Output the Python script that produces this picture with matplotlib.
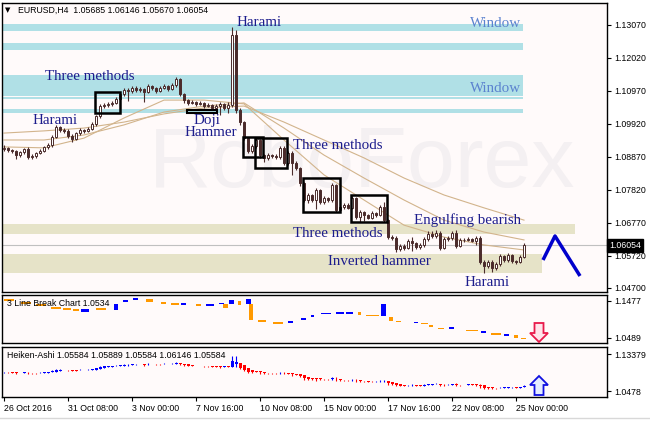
import numpy as np
import matplotlib
matplotlib.use('Agg')
import matplotlib.pyplot as plt
from matplotlib.patches import Rectangle, Polygon
from matplotlib.lines import Line2D

# EURUSD H4 candles, 26 Oct - 25 Nov 2016
first_open = 1.0912
closes = [1.0916, 1.0909, 1.0906, 1.0893, 1.0903, 1.0912, 1.0887, 1.0890, 1.0900, 1.0906,
          1.0919, 1.0925, 1.0951, 1.0982, 1.0973, 1.0970, 1.0954, 1.0944, 1.0963, 1.0973,
          1.0970, 1.0976, 1.0992, 1.1017, 1.1049, 1.1052, 1.1056, 1.1059, 1.1072, 1.1087,
          1.1100, 1.1097, 1.1107, 1.1100, 1.1103, 1.1094, 1.1113, 1.1107, 1.1097, 1.1107,
          1.1113, 1.1103, 1.1116, 1.1135, 1.1087, 1.1068, 1.1059, 1.1062, 1.1056, 1.1059,
          1.1049, 1.1052, 1.1043, 1.1049, 1.1056, 1.1043, 1.1052, 1.1275, 1.1037, 1.0998,
          1.0947, 1.0906, 1.0922, 1.0941, 1.0893, 1.0884, 1.0893, 1.0890, 1.0887, 1.0916,
          1.0868, 1.0900, 1.0868, 1.0852, 1.0804, 1.0750, 1.0766, 1.0750, 1.0782, 1.0744,
          1.0756, 1.0750, 1.0798, 1.0718, 1.0728, 1.0734, 1.0725, 1.0756, 1.0696, 1.0712,
          1.0702, 1.0693, 1.0709, 1.0702, 1.0728, 1.0686, 1.0632, 1.0629, 1.0594, 1.0604,
          1.0597, 1.0620, 1.0613, 1.0600, 1.0607, 1.0626, 1.0642, 1.0635, 1.0645, 1.0597,
          1.0626, 1.0629, 1.0645, 1.0604, 1.0623, 1.0623, 1.0626, 1.0620, 1.0629, 1.0553,
          1.0540, 1.0553, 1.0534, 1.0546, 1.0572, 1.0559, 1.0575, 1.0556, 1.0553, 1.05685,
          1.06054]
highs = [1.0925, 1.0920, 1.0913, 1.0910, 1.0907, 1.0916, 1.0918, 1.0896, 1.0904, 1.0911,
         1.0923, 1.0931, 1.0956, 1.0990, 1.0986, 1.0978, 1.0975, 1.0960, 1.0968, 1.0979,
         1.0977, 1.0983, 1.0998, 1.1022, 1.1055, 1.1058, 1.1061, 1.1065, 1.1077, 1.1093,
         1.1106, 1.1108, 1.1113, 1.1112, 1.1110, 1.1108, 1.1118, 1.1117, 1.1110, 1.1112,
         1.1119, 1.1116, 1.1122, 1.1142, 1.1138, 1.1092, 1.1072, 1.1067, 1.1066, 1.1064,
         1.1063, 1.1058, 1.1056, 1.1054, 1.1061, 1.1060, 1.1062, 1.1300, 1.1290, 1.1042,
         1.1003, 1.0952, 1.0928, 1.0948, 1.0945, 1.0898, 1.0899, 1.0897, 1.0895, 1.0922,
         1.0921, 1.0906, 1.0905, 1.0873, 1.0856, 1.0808, 1.0772, 1.0770, 1.0788, 1.0786,
         1.0762, 1.0760, 1.0803, 1.0802, 1.0733, 1.0739, 1.0740, 1.0762, 1.0760, 1.0717,
         1.0716, 1.0706, 1.0714, 1.0712, 1.0733, 1.0745, 1.0690, 1.0640, 1.0634, 1.0610,
         1.0609, 1.0626, 1.0632, 1.0617, 1.0612, 1.0632, 1.0650, 1.0650, 1.0655, 1.0650,
         1.0632, 1.0634, 1.0651, 1.0655, 1.0629, 1.0628, 1.0631, 1.0630, 1.0636, 1.0634,
         1.0560, 1.0560, 1.0558, 1.0552, 1.0578, 1.0576, 1.0582, 1.0578, 1.0560, 1.0574,
         1.06146]
lows = [1.0905, 1.0903, 1.0899, 1.0880, 1.0888, 1.0898, 1.0882, 1.0879, 1.0885, 1.0895,
        1.0902, 1.0912, 1.0920, 1.0946, 1.0966, 1.0962, 1.0948, 1.0936, 1.0940, 1.0958,
        1.0964, 1.0966, 1.0972, 1.0986, 1.1012, 1.1043, 1.1046, 1.1050, 1.1054, 1.1068,
        1.1082, 1.1065, 1.1090, 1.1094, 1.1095, 1.1062, 1.1090, 1.1100, 1.1090, 1.1093,
        1.1103, 1.1097, 1.1099, 1.1111, 1.1080, 1.1060, 1.1052, 1.1054, 1.1050, 1.1052,
        1.1043, 1.1045, 1.1036, 1.1038, 1.1020, 1.1035, 1.1026, 1.1045, 1.1028, 1.0990,
        1.0940, 1.0900, 1.0900, 1.0915, 1.0885, 1.0872, 1.0878, 1.0884, 1.0880, 1.0882,
        1.0862, 1.0862, 1.0830, 1.0845, 1.0796, 1.0744, 1.0740, 1.0744, 1.0722, 1.0736,
        1.0738, 1.0744, 1.0745, 1.0712, 1.0712, 1.0722, 1.0720, 1.0720, 1.0690, 1.0680,
        1.0682, 1.0688, 1.0688, 1.0696, 1.0698, 1.0680, 1.0625, 1.0622, 1.0586, 1.0588,
        1.0590, 1.0593, 1.0588, 1.0594, 1.0595, 1.0602, 1.0620, 1.0630, 1.0630, 1.0590,
        1.0593, 1.0621, 1.0624, 1.0598, 1.0600, 1.0617, 1.0619, 1.0615, 1.0606, 1.0546,
        1.0518, 1.0534, 1.0520, 1.0528, 1.0540, 1.0552, 1.0554, 1.0550, 1.0547, 1.0550,
        1.05670]

# moving averages, sampled every 10 bars
ma_idx = [0, 10, 20, 30, 40, 50, 60, 70, 80, 90, 100, 110, 120, 130]
ma_slow = [1.0963, 1.0970, 1.0979, 1.0998, 1.1024, 1.1043, 1.1049, 1.0998, 1.0941, 1.0884,
           1.0820, 1.0766, 1.0725, 1.0686]
ma_mid = [1.0941, 1.0941, 1.0957, 1.0989, 1.1030, 1.1049, 1.1059, 1.0979, 1.0893, 1.0820,
          1.0750, 1.0686, 1.0648, 1.0623]
ma_fast = [1.0919, 1.0916, 1.0947, 1.1011, 1.1068, 1.1068, 1.1056, 1.0941, 1.0830, 1.0750,
           1.0670, 1.0632, 1.0607, 1.0591]

# 3 Line Break bricks: start bar, end bar, top, bottom, up?
lb_start = [0, 4.2, 8, 11.8, 14.8, 17.2, 19.2, 23, 27.5, 29.8, 32.2, 35.5, 39.2, 41.8, 44.2,
            48, 50.5, 53.8, 54.8, 56.2, 58.5, 60.5, 61.2, 63.5, 67.2, 71, 74.2, 76.8, 79.2,
            83, 85.5, 88.5, 90.5, 94.2, 96.2, 98, 102.5, 104.2, 106.2, 108.5, 111.2, 115.5,
            119.2, 121.8, 125, 127.5, 129.2]
lb_end = [2.5, 6.8, 10.5, 14.2, 16.8, 18.8, 21.2, 25.5, 28.5, 31, 33.5, 37.2, 40.5, 43.8, 45.5,
          49.2, 52.5, 55, 56, 57.5, 59.2, 61.8, 62.2, 65.5, 69.8, 72.2, 75.5, 77.5, 81.8,
          85, 87.2, 89.2, 93.8, 95.5, 97.2, 99.2, 103.5, 106, 107.2, 110, 112.5, 118.5,
          120.5, 124.2, 126.2, 128.5, 130.5]
lb_top = [1.1530, 1.1450, 1.1397, 1.1317, 1.1290, 1.1263, 1.1263, 1.1290, 1.1397, 1.1504,
          1.1557, 1.1530, 1.1450, 1.1424, 1.1424, 1.1397, 1.1397, 1.1424, 1.1397, 1.1504,
          1.1477, 1.1530, 1.1397, 1.0970, 1.0916, 1.0943, 1.1023, 1.1103, 1.1157, 1.1184,
          1.1184, 1.1184, 1.1103, 1.1397, 1.1050, 1.0943, 1.0916, 1.0890, 1.0836, 1.0756,
          1.0783, 1.0703, 1.0676, 1.0623, 1.0596, 1.0569, 1.0489]
lb_bot = [1.1477, 1.1397, 1.1344, 1.1263, 1.1237, 1.1210, 1.1184, 1.1237, 1.1237, 1.1450,
          1.1504, 1.1450, 1.1397, 1.1370, 1.1370, 1.1344, 1.1344, 1.1397, 1.1290, 1.1397,
          1.1370, 1.1397, 1.0970, 1.0916, 1.0863, 1.0890, 1.0970, 1.1050, 1.1130, 1.1130,
          1.1130, 1.1103, 1.1077, 1.1077, 1.0943, 1.0916, 1.0890, 1.0863, 1.0783, 1.0729,
          1.0729, 1.0676, 1.0623, 1.0569, 1.0543, 1.0489, 1.0462]
lb_up = [0, 0, 0, 0, 0, 0, 1, 0, 1, 1, 1, 0, 0, 0, 1, 0, 1, 1, 0, 1, 0, 1, 0, 0, 0, 1, 1, 1, 1,
         1, 1, 0, 0, 1, 0, 0, 1, 0, 0, 0, 1, 0, 1, 0, 1, 0, 0]

main_ticks = [1.13070, 1.12020, 1.10970, 1.09920, 1.08870, 1.07820, 1.06770, 1.05720, 1.04700]
lb_ticks = [1.1477, 1.0489]
ha_ticks = [1.13379, 1.0478]
date_bars = [0, 16, 32, 48, 64, 80, 96, 112, 128]
date_labels = ['26 Oct 2016', '31 Oct 08:00', '3 Nov 00:00', '7 Nov 16:00', '10 Nov 08:00',
               '15 Nov 00:00', '17 Nov 16:00', '22 Nov 08:00', '25 Nov 00:00']

W, H = 650, 421
CANDLE = '#4B2B2B'
TXT = '#1C1C8C'
PANEL = '#FFFAFA'


def px_box(left, top, right, bottom):
    return [left / W, 1 - bottom / H, (right - left) / W, (bottom - top) / H]


def px(x, y):
    return (x / W, 1 - y / H)


def style_panel(ax, ticks, fmt):
    ax.set_facecolor(PANEL)
    ax.set_xlim(-0.5, 150.75)
    ax.yaxis.tick_right()
    ax.set_yticks(ticks)
    ax.set_yticklabels([fmt % t for t in ticks])
    ax.tick_params(axis='y', direction='out', length=3, width=0.8, labelsize=6.3, pad=2)
    ax.tick_params(axis='x', bottom=False, labelbottom=False)
    for s in ax.spines.values():
        s.set_linewidth(1.0)
        s.set_color('black')


def main():
    plt.rcParams['font.family'] = ['Liberation Sans', 'DejaVu Sans']
    fig = plt.figure(figsize=(6.5, 4.21), dpi=100)
    fig.patch.set_facecolor('white')

    ax = fig.add_axes(px_box(2, 3, 607, 292))
    ax_lb = fig.add_axes(px_box(2, 295, 607, 343))
    ax_ha = fig.add_axes(px_box(2, 347, 607, 397))

    o = np.r_[first_open, closes[:-1]]
    c = np.array(closes)
    h = np.array(highs)
    l = np.array(lows)
    x = np.arange(len(c))

    # ---- main price panel
    style_panel(ax, main_ticks, '%.5f')
    ax.set_ylim(1.04572, 1.13770)

    # faint broker watermark
    ax.text(0.595, 0.44, 'RoboForex', transform=ax.transAxes, fontsize=62,
            color='#F4F0F2', ha='center', va='center', zorder=0)

    # zones
    for top, bot in [(1.13102, 1.12879), (1.12497, 1.12274), (1.11479, 1.10810),
                     (1.10770, 1.10706), (1.10397, 1.10269)]:
        ax.add_patch(Rectangle((-0.25, bot), 130, top - bot, color='#B0E0E6', lw=0, zorder=1))
    ax.add_patch(Rectangle((-0.25, 1.06418), 143, 1.06736 - 1.06418, color='#E6E3C8', lw=0, zorder=1))
    ax.add_patch(Rectangle((-0.25, 1.05177), 134.75, 1.05781 - 1.05177, color='#E6E3C8', lw=0, zorder=1))
    ax.axhline(closes[-1], color='#C0C0C0', lw=0.8, zorder=1.5)

    for ma in (ma_slow, ma_mid, ma_fast):
        ax.plot(ma_idx, ma, color='#D2B48C', lw=0.8, zorder=2)

    # candles
    up = c >= o
    ax.vlines(x, l, h, color=CANDLE, lw=0.8, zorder=3)
    body_lo = np.minimum(o, c)
    body_h = np.maximum(np.abs(c - o), 0.00006)
    ax.bar(x, body_h, width=0.7, bottom=body_lo, color=np.where(up, 'white', CANDLE),
           edgecolor=CANDLE, lw=0.7, zorder=4)

    # pattern boxes
    for x0, x1, top, bot in [(22.75, 29, 1.10938, 1.10269), (59.75, 64.75, 1.09506, 1.08869),
                             (62.75, 70.75, 1.09474, 1.08519), (74.75, 84, 1.08201, 1.07118),
                             (86.75, 95.75, 1.07659, 1.06800)]:
        ax.add_patch(Rectangle((x0, bot), x1 - x0, top - bot, fill=False, ec='black', lw=1.8, zorder=5))
    ax.add_patch(Rectangle((45.75, 1.10269), 7.5, 0.00096, fill=False, ec='black', lw=1.5, zorder=5))

    # forecast zigzag
    ax.plot([134.75, 137.75, 144], [1.05591, 1.06355, 1.05082], color='#0000CC', lw=2.5,
            zorder=5, solid_capstyle='butt')

    labels = [('Harami', 63.75, 1.13165), ('Three methods', 21.5, 1.11415),
              ('Harami', 12.75, 1.10046), ('Doji', 50.75, 1.10015), ('Hammer', 51.75, 1.09633),
              ('Three methods', 83.5, 1.09219), ('Engulfing bearish', 115.75, 1.06864),
              ('Three methods', 83.5, 1.06418), ('Inverted hammer', 93.75, 1.05527),
              ('Harami', 120.75, 1.04859)]
    for s, lx, ly in labels:
        ax.text(lx, ly, s, family='Liberation Serif', fontsize=10.8, color=TXT,
                ha='center', va='center', zorder=6)
    for wy in (1.13102, 1.11033):
        ax.text(123, wy, 'Window', family='Liberation Serif', fontsize=10.8,
                color='#5B82CF', ha='center', va='center', zorder=6)

    ax.text(1.003, closes[-1], '1.06054', transform=ax.get_yaxis_transform(), fontsize=6.3,
            color='white', ha='left', va='center', zorder=7, clip_on=False,
            bbox=dict(boxstyle='square,pad=0.25', fc='black', ec='black'))
    fig.text(*px(5, 10), '\u25bc', fontsize=5, va='center', ha='left', family='DejaVu Sans')
    fig.text(*px(18, 10), 'EURUSD,H4  1.05685 1.06146 1.05670 1.06054', fontsize=6.3,
             va='center', ha='left')

    # ---- 3 line break panel
    style_panel(ax_lb, lb_ticks, '%.4f')
    ax_lb.set_ylim(1.0355, 1.1637)
    st = np.array(lb_start)
    en = np.array(lb_end)
    top = np.array(lb_top)
    bot = np.array(lb_bot)
    ax_lb.bar(st, top - bot, width=en - st, bottom=bot, align='edge', lw=0,
              color=np.where(np.array(lb_up) == 1, '#0000FF', '#FF9900'), zorder=3)
    ax_lb.text((7 - 2) / 605, (343 - 303) / 48, '3 Line Break Chart 1.0534',
               transform=ax_lb.transAxes, fontsize=6.3, va='center', ha='left', zorder=4)

    # ---- heiken ashi panel
    style_panel(ax_ha, ha_ticks, '%.5g')
    ax_ha.set_yticklabels(['1.13379', '1.0478'])
    ax_ha.set_ylim(1.0339, 1.1501)
    ha_c = (o + h + l + c) / 4
    ha_o = np.zeros_like(ha_c)
    ha_o[0] = (o[0] + c[0]) / 2
    for i in range(1, len(c)):
        ha_o[i] = (ha_o[i - 1] + ha_c[i - 1]) / 2
    ha_h = np.maximum.reduce([h, ha_o, ha_c])
    ha_l = np.minimum.reduce([l, ha_o, ha_c])
    cols = np.where(ha_c >= ha_o, '#0000FF', '#FF0000')
    ax_ha.vlines(x, ha_l, ha_h, colors=cols, lw=0.8, zorder=3)
    ax_ha.bar(x, np.maximum(np.abs(ha_c - ha_o), 0.0008), width=0.75,
              bottom=np.minimum(ha_o, ha_c), color=cols, lw=0, zorder=4)
    ax_ha.text((7 - 2) / 605, (397 - 355) / 50,
               'Heiken-Ashi 1.05584 1.05889 1.05584 1.06146 1.05584',
               transform=ax_ha.transAxes, fontsize=6.3, va='center', ha='left', zorder=5)

    ax_ha.tick_params(axis='x', bottom=True, labelbottom=True, direction='out', length=3,
                      width=0.8, labelsize=6.3, pad=2)
    ax_ha.set_xticks(date_bars)
    ax_ha.set_xticklabels(date_labels, ha='left')

    # signal arrows
    down = [(534.5, 323), (543.5, 323), (543.5, 333), (548, 333), (539, 342), (530, 333), (534.5, 333)]
    upa = [(534.5, 395), (543.5, 395), (543.5, 385), (548, 385), (539, 376), (530, 385), (534.5, 385)]
    fig.add_artist(Polygon([px(a, b) for a, b in down], closed=True, transform=fig.transFigure,
                           fc='#FFE4EA', ec='#E8194A', lw=1.3))
    fig.add_artist(Polygon([px(a, b) for a, b in upa], closed=True, transform=fig.transFigure,
                           fc='#E4ECFF', ec='#1010E0', lw=1.3))

    fig.add_artist(Line2D([0, 1], [1 - 418 / H] * 2, color='#D8D8D8', lw=1, transform=fig.transFigure))

    fig.savefig('out.png', dpi=100, facecolor='white')


if __name__ == "__main__":
    main()
